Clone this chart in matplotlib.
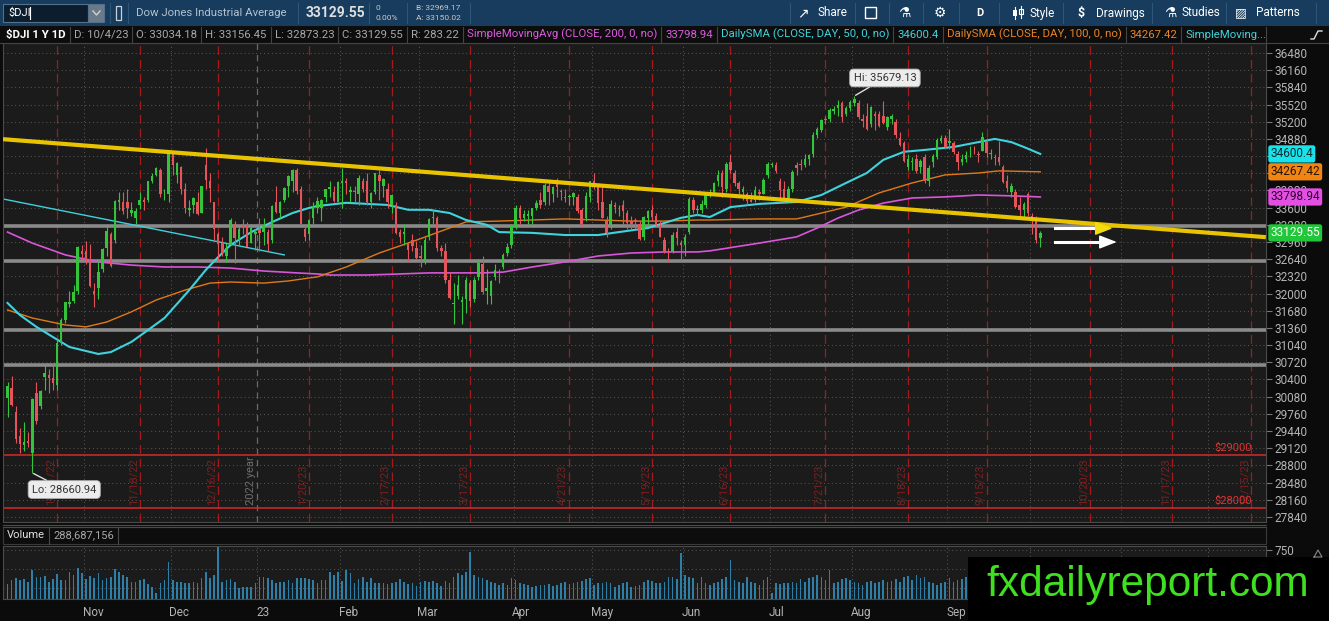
import numpy as np
import pandas as pd
import matplotlib
matplotlib.use('Agg')
import matplotlib.pyplot as plt
from matplotlib.patches import Rectangle

plt.rcParams['font.family'] = ['Roboto', 'DejaVu Sans']

# ---------------- data ----------------
holidays = ['2022-11-24', '2022-12-26', '2023-01-02', '2023-01-16', '2023-02-20',
            '2023-04-07', '2023-05-29', '2023-06-19', '2023-07-04', '2023-09-04',
            '2023-11-23', '2023-12-25']

opens = [30050, 30250, 29800, 29350, 29180, 29260, 29040, 30150, 29900, 30450, 30480, 30420, 30300, 31100, 31500, 31800, 31860, 32040, 32800,
         32800, 32650, 32050, 32100, 32450, 32850, 33100, 33000, 33700, 33700, 33700, 33500, 33400, 33650, 33740, 33750, 34100, 34200, 34300, 33850, 33850,
         34600, 34200, 34350, 33950, 33550, 33650, 33700, 33500, 34400, 34100, 33700, 33100, 32950, 32700, 32900, 33300, 33000, 33250, 33250, 32950, 33100,
         33200, 33150, 33150, 33000, 33700, 33500, 33750, 34000, 34100, 34300, 33950, 33200, 33100, 33400, 33600, 33600, 33800, 33950, 33900, 33700,
         34050, 34100, 33900, 33900, 33850, 34100, 34100, 33700, 33900, 34200, 34000, 33950, 33650, 33650, 33150, 33100, 32950, 33000, 32850,
         32700, 32600, 33050, 33400, 33400, 32850, 32800, 32250, 31800, 31950, 31850, 31900, 32200, 31900, 32300, 32550, 32050, 31950, 32300, 32400, 32500, 32750, 32900,
         33250, 33600, 33400, 33450, 33450, 33600, 33750, 33700, 34000, 33850, 34050, 33900, 33800, 33800, 33800, 33800, 33550, 33400, 33800,
         34100, 34000, 33700, 33350, 33250, 33650, 33550, 33650, 33500, 33350, 33350, 33300, 33050, 33400, 33550, 33450, 33250, 33000, 32800, 32800, 33150, 32950,
         32900, 33150, 33750, 33550, 33550, 33650, 33850, 33900, 34100, 34250, 33950, 34450, 34250, 34050, 33900, 33850, 33750, 33750, 33900, 33850, 34200,
         34400, 34400, 34100, 33950, 33750, 33950, 34400, 34400, 34400, 34500, 34600, 34950, 35050, 35250, 35250, 35400, 35450, 35550, 35350, 35450,
         35550, 35550, 35250, 35300, 35150, 35350, 35350, 35300, 35100, 35250, 35200, 34900, 34800, 34350, 34450, 34500, 34350, 34550, 34100, 34450, 34550, 34850, 34900,
         34800, 34800, 34600, 34450, 34500, 34650, 34650, 34600, 34650, 34850, 34600, 34550, 34550, 34350, 34100, 33900, 33900, 33650, 33550, 33850,
         33450, 33400, 33034.18]
highs = [30350, 30470, 29900, 29500, 29600, 29430, 30060, 30350, 30200, 30690, 30600, 30700, 31150, 31550, 31850, 32050, 32160, 32880, 32900,
         32980, 32920, 32200, 32600, 32850, 33300, 33150, 33750, 33890, 33900, 33950, 33700, 33600, 33900, 33800, 34100, 34250, 34360, 34330, 33950, 34600,
         34620, 34450, 34380, 34050, 33750, 33800, 33900, 34010, 34710, 34250, 33700, 33150, 33050, 32950, 33400, 33350, 33250, 33380, 33330, 33300, 33200,
         33400, 33400, 33200, 33650, 34000, 33720, 33980, 34200, 34320, 34340, 34000, 33300, 33380, 33700, 33800, 33760, 33950, 34100, 34000, 34100,
         34340, 34150, 34000, 34000, 34200, 34150, 34250, 33900, 34250, 34300, 34150, 34050, 33850, 33700, 33200, 33300, 32950, 33100, 32980,
         32900, 33050, 33400, 33570, 33450, 32900, 32950, 32400, 32200, 32350, 31950, 32300, 32250, 32300, 32600, 32700, 32450, 32250, 32550, 32450, 32750, 32950, 33300,
         33650, 33650, 33550, 33550, 33600, 33750, 33900, 34050, 34100, 34000, 34150, 33950, 33950, 33850, 33900, 33850, 33600, 33900, 34100,
         34250, 34050, 34000, 33450, 33750, 33700, 33650, 33750, 33550, 33450, 33400, 33350, 33450, 33550, 33650, 33500, 33350, 33050, 32850, 33150, 33250, 33000,
         33100, 33800, 33800, 33650, 33750, 33900, 33950, 34070, 34300, 34300, 34450, 34590, 34300, 34100, 34000, 33900, 33900, 34000, 33950, 34150, 34450,
         34450, 34450, 34150, 34100, 34000, 34300, 34450, 34500, 34600, 34600, 35000, 35100, 35250, 35300, 35450, 35500, 35600, 35580, 35500, 35600,
         35679.13, 35600, 35350, 35550, 35500, 35400, 35400, 35580, 35300, 35350, 35250, 35000, 34850, 34600, 34550, 34600, 34500, 34600, 34400, 34600, 34900, 34950, 34950,
         35070, 34850, 34650, 34600, 34650, 34750, 34750, 34650, 35000, 34900, 34700, 34600, 34850, 34400, 34200, 34050, 33950, 33800, 33700, 33900,
         33500, 33450, 33156.45]
lows = [29710, 29900, 29210, 29040, 29070, 29140, 28660.94, 29580, 29850, 30200, 30150, 30200, 30200, 31050, 31450, 31750, 31820, 32000, 32650,
        32550, 32130, 31750, 31900, 32400, 32700, 32500, 32950, 33550, 33480, 33400, 33450, 33300, 33580, 33550, 33700, 34050, 34180, 33800, 33750, 33700,
        34200, 34050, 33850, 33500, 33450, 33500, 33470, 33500, 33950, 33700, 33000, 32600, 32700, 32580, 32900, 32570, 32900, 33100, 32880, 32950, 32820,
        32800, 32900, 32800, 32950, 33500, 33400, 33700, 33800, 33900, 33850, 33280, 32980, 33000, 33300, 33500, 33350, 33700, 33800, 33700, 33700,
        33600, 33850, 33700, 33700, 33650, 33900, 33650, 33600, 33850, 33750, 33800, 33600, 33500, 33100, 32950, 32900, 32600, 32800, 32650,
        32500, 32550, 33000, 33300, 32800, 32700, 32200, 31900, 31430, 31900, 31430, 31640, 31750, 31850, 32250, 32000, 31800, 31800, 32250, 32200, 32450, 32700, 32850,
        33200, 33300, 33350, 33300, 33300, 33550, 33600, 33650, 33650, 33700, 33800, 33750, 33700, 33650, 33650, 33500, 33250, 33350, 33700,
        33950, 33550, 33400, 33050, 33200, 33500, 33450, 33300, 33200, 33200, 33200, 33000, 33000, 33250, 33350, 33250, 33050, 32750, 32600, 32750, 32900, 32600,
        32700, 33100, 33500, 33450, 33500, 33600, 33800, 33850, 34000, 33800, 33900, 34250, 34000, 33850, 33750, 33650, 33700, 33700, 33750, 33850, 34150,
        34350, 34250, 33700, 33700, 33700, 33900, 34200, 34300, 34350, 34400, 34550, 34900, 35000, 35150, 35200, 35350, 35300, 35200, 35300, 35400,
        35500, 35250, 35100, 35050, 35100, 35050, 35100, 35150, 35050, 35150, 34900, 34750, 34450, 34300, 34300, 34250, 34250, 34050, 34000, 34350, 34500, 34800, 34700,
        34700, 34600, 34300, 34400, 34450, 34550, 34600, 34450, 34650, 34550, 34500, 34400, 34400, 34050, 33900, 33800, 33600, 33450, 33400, 33450,
        33100, 32950, 32873.23]
closes = [30274, 29927, 29297, 29203, 29240, 29211, 30039, 29635, 30186, 30524, 30424, 30334, 31083, 31500, 31837, 31840, 32034, 32862, 32733,
          32653, 32148, 32001, 32403, 32827, 33160, 32514, 33716, 33748, 33537, 33593, 33554, 33546, 33746, 33700, 34098, 34195, 34347, 33850, 33853, 34590,
          34395, 34430, 33947, 33597, 33598, 33781, 33476, 34005, 34108, 33966, 33202, 32920, 32757, 32850, 33376, 33027, 33204, 33241, 32875, 33221, 33147,
          33136, 33270, 32930, 33631, 33518, 33704, 33973, 34190, 34303, 33910, 33297, 33045, 33375, 33630, 33733, 33744, 33949, 33978, 33717, 34086,
          34093, 34054, 33926, 33891, 34156, 33949, 33699, 33869, 34246, 34089, 34128, 33697, 33827, 33130, 33045, 33154, 32817, 32889, 32657,
          32662, 33004, 33391, 33432, 32856, 32798, 32255, 31910, 31820, 32155, 31875, 32247, 31862, 32245, 32561, 32031, 32106, 32238, 32433, 32394, 32718, 32860, 33274,
          33601, 33403, 33483, 33486, 33587, 33685, 33647, 34030, 33887, 33988, 33977, 33897, 33787, 33809, 33876, 33531, 33302, 33826, 34098,
          34052, 33684, 33414, 33128, 33675, 33618, 33562, 33531, 33309, 33300, 33349, 33013, 33420, 33535, 33427, 33286, 33056, 32800, 32765, 33093, 33043, 32908,
          33061, 33763, 33563, 33573, 33665, 33833, 33876, 34066, 34212, 33979, 34408, 34299, 34053, 33952, 33947, 33727, 33714, 33927, 33852, 34122, 34408,
          34418, 34288, 33922, 33734, 33944, 34262, 34347, 34395, 34509, 34586, 34952, 35061, 35225, 35228, 35411, 35438, 35520, 35282, 35459, 35560,
          35630, 35282, 35215, 35066, 35473, 35314, 35123, 35176, 35281, 35308, 34946, 34766, 34474, 34501, 34464, 34288, 34473, 34099, 34347, 34559, 34853, 34891, 34722,
          34838, 34642, 34443, 34501, 34577, 34664, 34646, 34576, 34908, 34618, 34625, 34518, 34441, 34070, 33964, 34007, 33619, 33551, 33667, 33508,
          33433, 33002, 33129.55]
volume_m = [307, 355, 377, 355, 364, 334, 487, 399, 391, 408,
            334, 364, 434, 355, 355, 456, 421, 509, 443, 364,
            412, 377, 443, 355, 377, 399, 500, 456, 421, 399,
            334, 334, 355, 364, 303, 268, 180, 312, 355, 597,
            355, 334, 334, 312, 312, 334, 312, 377, 465, 377,
            421, 794, 334, 355, 369, 334, 246, 268, 268, 268,
            312, 399, 391, 377, 355, 312, 334, 334, 355, 312,
            377, 377, 386, 364, 355, 312, 355, 355, 465, 421,
            465, 340, 487, 443, 312, 364, 399, 334, 377, 312,
            312, 320, 303, 312, 334, 369, 334, 303, 320, 281,
            334, 342, 334, 347, 312, 277, 342, 312, 399, 443,
            421, 465, 728, 421, 399, 377, 355, 334, 312, 290,
            312, 290, 377, 355, 312, 303, 290, 268, 281, 290,
            290, 299, 281, 290, 320, 334, 303, 312, 334, 347,
            364, 377, 290, 312, 320, 334, 312, 268, 290, 320,
            334, 268, 277, 290, 334, 355, 347, 312, 320, 334,
            399, 399, 364, 706, 421, 399, 377, 312, 399, 312,
            290, 320, 334, 364, 399, 619, 355, 334, 312, 399,
            334, 312, 290, 355, 399, 190, 312, 303, 320, 312,
            334, 312, 364, 334, 377, 399, 421, 399, 355, 487,
            312, 334, 364, 377, 355, 334, 312, 290, 334, 347,
            320, 334, 355, 334, 347, 364, 334, 399, 408, 355,
            421, 377, 399, 334, 312, 290, 312, 334, 377, 334,
            355, 364, 399, 334, 320, 340, 330, 560, 300, 290,
            310, 350, 370, 310, 330, 320, 300, 340, 300, 330,
            289]

# moving averages (bar index, value)
sma50_x = [0, 3, 7, 11, 15, 22, 25, 30, 34, 38, 44, 48, 51, 54, 59, 64, 69, 73, 75, 82, 92, 97, 102, 107, 111,
           116, 119, 127, 135, 143, 148, 155, 163, 167, 170, 175, 182, 191, 197, 203, 208, 212, 217, 222, 229, 235, 239, 243, 246, 250]
sma50_v = [31825, 31600, 31380, 31190, 31005, 30875, 30910, 31100, 31320, 31545, 32065, 32440, 32680, 32905, 33145,
           33330, 33500, 33595, 33630, 33690, 33650, 33560, 33560, 33500, 33370, 33280, 33145, 33130, 33090, 33090,
           33145, 33220, 33410, 33465, 33425, 33610, 33670, 33705, 33835, 34060, 34245, 34490, 34640, 34675, 34730,
           34820, 34880, 34820, 34730, 34600.4]
sma100_x = [0, 6, 14, 19, 24, 30, 36, 43, 49, 54, 62, 68, 73, 75, 82, 90, 99, 107, 111, 119, 127, 135, 143, 151, 159,
            167, 170, 182, 191, 193, 203, 211, 219, 227, 235, 240, 250]
sma100_v = [31695, 31545, 31415, 31380, 31470, 31660, 31880, 32065, 32195, 32215, 32195, 32235, 32290, 32310, 32495,
            32755, 32995, 33220, 33335, 33350, 33370, 33390, 33370, 33350, 33350, 33370, 33370, 33390, 33390, 33425,
            33610, 33875, 34060, 34210, 34245, 34285, 34267.42]
sma200_x = [0, 6, 14, 22, 30, 38, 46, 54, 62, 70, 75, 78, 87, 95, 102, 115, 120, 127, 135, 143, 151, 159, 167, 170,
            182, 191, 196, 201, 206, 212, 219, 227, 235, 243, 250]
sma200_v = [33145, 32940, 32720, 32590, 32530, 32495, 32495, 32475, 32420, 32385, 32365, 32345, 32345, 32365, 32385,
            32385, 32400, 32495, 32590, 32700, 32755, 32775, 32775, 32795, 32940, 33055, 33220, 33405, 33555, 33685,
            33780, 33800, 33835, 33820, 33798.94]
sma_extra_x = [-1, 67]
sma_extra_v = [33760, 32720]

trend_x = [-1.1, 304.6]
trend_v = [34875, 33050]
support_levels = [33260, 32610, 31320, 30670]
price_alerts = [29000, 28000]
alert_labels = ['$29000', '$28000']
expiries = ['2022-10-21', '2022-11-18', '2022-12-16', '2023-01-20', '2023-02-17', '2023-03-17', '2023-04-21',
            '2023-05-19', '2023-06-16', '2023-07-21', '2023-08-18', '2023-09-15', '2023-10-20', '2023-11-17',
            '2023-12-15']
arrow_x0 = [253.5, 253.5]
arrow_x1 = [267.5, 268.5]
arrow_v = [33215, 32960]
arrow_heads = ['#f2dc10', '#ffffff']
last_labels = [('34600.4', 34600.4, '#19e3ea', '#0a2a30'),
               ('34267.42', 34267.42, '#f08512', '#2a1200'),
               ('33798.94', 33798.94, '#e24fe2', '#2a002a'),
               ('33129.55', 33129.55, '#22c63a', '#ffffff')]
hidden_ticks = [34560, 34240]

# ---------------- layout ----------------
W, H = 1329, 621
fig = plt.figure(figsize=(W / 100, H / 100), dpi=100)
fig.patch.set_facecolor('#0b0b0b')


def R(x0, y0, x1, y1):
    return [x0 / W, 1 - y1 / H, (x1 - x0) / W, (y1 - y0) / H]


cal = pd.bdate_range('2022-10-05', '2023-12-29')
cal = cal[~cal.isin(pd.to_datetime(holidays))]
pos = {d.strftime('%Y-%m-%d'): i for i, d in enumerate(cal)}
n = len(closes)
idx = np.arange(n)
o = np.array(opens, float); h = np.array(highs, float)
l = np.array(lows, float); c = np.array(closes, float)

month_starts = [i for i in range(1, len(cal)) if cal[i].month != cal[i - 1].month]
month_names = [('23' if cal[i].month == 1 else cal[i].strftime('%b')) for i in month_starts]

XL = (-1.09, 304.64)
grid_kw = dict(color='#5a5a5a', lw=0.7, ls=(0, (1, 3)))

ax = fig.add_axes(R(3, 43, 1266, 522))
ax.set_facecolor('#1b1b1b')
ax.set_xlim(*XL)
ax.set_ylim(27746, 36666)
yt = list(range(27840, 36481, 320))
ax.set_yticks(yt)
ax.set_yticklabels(['' if v in hidden_ticks else str(v) for v in yt])
ax.yaxis.tick_right()
ax.tick_params(axis='y', colors='#777777', labelcolor='#b4b4b4', labelsize=8.5, length=4, pad=2)
ax.tick_params(axis='x', length=0, labelbottom=False)
for s in ax.spines.values():
    s.set_color('#4a4a4a'); s.set_linewidth(0.8)
for v in yt:
    ax.axhline(v, zorder=0.5, **grid_kw)
for i in month_starts:
    if cal[i].month != 1:
        ax.axvline(i - 0.5, zorder=0.5, **grid_kw)

# expiration lines
for d in expiries:
    xi = pos[d]
    ax.axvline(xi, color='#a01c1c', lw=0.9, ls=(0, (7, 4)), zorder=1)
    dt = pd.Timestamp(d)
    ax.text(xi - 0.4, 0.036, f'{dt.month}/{dt.day}/{dt.strftime("%y")}', transform=ax.get_xaxis_transform(),
            rotation=90, ha='right', va='bottom', color='#7c1f1f', fontsize=8, zorder=1.5)
ax.axvline(60.5, color='#6a6a6a', lw=0.9, ls=(0, (5, 4)), zorder=1)
ax.text(60.1, 0.036, '2022 year', transform=ax.get_xaxis_transform(), rotation=90, ha='right', va='bottom',
        color='#6e6e6e', fontsize=8, zorder=1.5)

for v in support_levels:
    ax.axhline(v, color='#8a8a8a', lw=2.6, zorder=2)
for v, lab in zip(price_alerts, alert_labels):
    ax.axhline(v, color='#d42a2a', lw=1.1, zorder=2)
    ax.text(0.9885, v + 40, lab, transform=ax.get_yaxis_transform(), ha='right', va='bottom',
            color='#e03232', fontsize=8, zorder=2)

# moving averages
ax.plot(sma_extra_x, sma_extra_v, color='#3fd0dc', lw=1.0, zorder=2.5)
ax.plot(sma200_x, sma200_v, color='#d955d9', lw=1.2, zorder=2.6)
ax.plot(sma100_x, sma100_v, color='#e07a18', lw=1.0, zorder=2.6)
ax.plot(sma50_x, sma50_v, color='#3fd3dd', lw=1.5, zorder=2.7)

# candles
up = c >= o
cols = np.where(up, '#33c43c', '#e5545b')
ax.vlines(idx, l, h, colors=cols, lw=0.8, zorder=3)
body = np.maximum(np.abs(c - o), 12)
ax.bar(idx, body, bottom=np.minimum(o, c), width=0.6, color=cols, linewidth=0, zorder=4)

# trend line and arrows
ax.plot(trend_x, trend_v, color='#e8c400', lw=3.0, zorder=6, solid_capstyle='butt')
for x0, x1, v, hc in zip(arrow_x0, arrow_x1, arrow_v, arrow_heads):
    ax.plot([x0, x1 - 3], [v, v], color='white', lw=2.2, zorder=7)
    ax.annotate('', xy=(x1, v), xytext=(x1 - 3.5, v),
                arrowprops=dict(arrowstyle='-|>,head_length=0.9,head_width=0.35', color=hc, lw=1.0,
                                shrinkA=0, shrinkB=0, mutation_scale=12), zorder=7)

# hi / lo callouts
hi_i = int(np.argmax(h)); lo_i = int(np.argmin(l))
ax.annotate(f'Hi: {h[hi_i]:.2f}', xy=(hi_i, h[hi_i]), xytext=(22, 13), textcoords='offset points',
            ha='center', va='center', fontsize=8, color='#333333', zorder=12,
            bbox=dict(boxstyle='round,pad=0.35', fc='#ececec', ec='#b0b0b0', lw=0.6),
            arrowprops=dict(arrowstyle='-', color='#dddddd', lw=1.0, shrinkA=0, shrinkB=1))
ax.annotate(f'Lo: {l[lo_i]:.2f}', xy=(lo_i, l[lo_i]), xytext=(23, -12), textcoords='offset points',
            ha='center', va='center', fontsize=8, color='#333333', zorder=12,
            bbox=dict(boxstyle='round,pad=0.35', fc='#ececec', ec='#b0b0b0', lw=0.6),
            arrowprops=dict(arrowstyle='-', color='#dddddd', lw=1.0, shrinkA=0, shrinkB=1))

# right-axis value bubbles
for txt, v, bg, fg in last_labels:
    ax.text(1.0035, v, txt, transform=ax.get_yaxis_transform(), ha='left', va='center', fontsize=8.5,
            color=fg, zorder=20, clip_on=False,
            bbox=dict(boxstyle='round,pad=0.18,rounding_size=0.2', fc=bg, ec='none'))

# volume
axv = fig.add_axes(R(3, 546, 1266, 599))
axv.set_facecolor('#1b1b1b')
axv.set_xlim(*XL)
axv.set_ylim(105, 803)
axv.bar(idx, volume_m, width=0.4, color='#2d7fa7', linewidth=0, zorder=2)
axv.set_yticks([250, 500, 750])
axv.set_yticklabels(['', '', '750'])
axv.yaxis.tick_right()
axv.tick_params(axis='y', colors='#777777', labelcolor='#b4b4b4', labelsize=8.5, length=4, pad=2)
for v in [250, 500, 750]:
    axv.axhline(v, zorder=0.5, **grid_kw)
for i in month_starts:
    axv.axvline(i - 0.5, zorder=0.5, **grid_kw)
axv.set_xticks([i - 0.8 for i in month_starts])
axv.set_xticklabels(month_names, ha='left')
axv.tick_params(axis='x', length=0, pad=5, labelcolor='#b4b4b4', labelsize=8.5)
for s in axv.spines.values():
    s.set_color('#4a4a4a'); s.set_linewidth(0.8)

# ---------------- overlay (toolbar, header, watermark) ----------------
ov = fig.add_axes([0, 0, 1, 1], zorder=30)
ov.set_xlim(0, W); ov.set_ylim(H, 0); ov.axis('off'); ov.patch.set_alpha(0)
r = fig.canvas.get_renderer()


def T(x, y, s, **kw):
    kw.setdefault('va', 'center')
    kw.setdefault('ha', 'left')
    return ov.text(x, y, s, **kw)


# toolbar
ov.add_patch(Rectangle((0, 0), W, 26, fc='#173c5d', ec='none'))
ov.add_patch(Rectangle((3, 4), 85, 18, fc='#0c1d2e', ec='#55708a', lw=0.8))
ov.add_patch(Rectangle((88, 4), 16, 18, fc='#6b7a88', ec='#55708a', lw=0.8))
ov.plot([93, 96.5, 100], [11, 15, 11], color='#d0d0d0', lw=1.0)
T(8, 13, '$DJI', color='white', fontsize=8)
ov.plot([30, 30], [7, 19], color='white', lw=0.8)
ov.add_patch(Rectangle((116, 6), 5, 14, fc='none', ec='#c8d2dc', lw=0.9))
T(136, 13, 'Dow Jones Industrial Average', color='#b4c2d0', fontsize=8.2)
for xs in [110, 128, 298, 369, 407, 470]:
    ov.plot([xs, xs], [3, 23], color='#2d5578', lw=0.8)
T(306, 13, '33129.55', color='#dedede', fontsize=10, fontweight='bold')
T(375, 8, '0', color='#c8c8c8', fontsize=6)
T(375, 18, '0.00%', color='#c8c8c8', fontsize=6)
T(416, 8, 'B: 32969.17', color='#c8c8c8', fontsize=6)
T(416, 18, 'A: 33150.02', color='#c8c8c8', fontsize=6)
for xs in [790, 855, 889, 923, 959, 999, 1063, 1152, 1226, 1316]:
    ov.plot([xs, xs], [3, 23], color='#2d5578', lw=0.8)
T(797, 13, '↗', color='white', fontsize=10, family='DejaVu Sans')
T(817, 13, 'Share', color='white', fontsize=8.5)
ov.add_patch(Rectangle((865, 7), 11, 11, fc='none', ec='white', lw=1.0))
T(898, 13, '⚗', color='white', fontsize=10, family='DejaVu Sans')
T(934, 13, '⚙', color='white', fontsize=10, family='DejaVu Sans')
T(976, 13, 'D', color='white', fontsize=8, fontweight='bold')
# small candle icon for "Style"
ov.plot([1015, 1015], [7, 19], color='white', lw=0.8)
ov.add_patch(Rectangle((1013, 10), 4, 6, fc='white', ec='none'))
ov.plot([1021, 1021], [6, 18], color='white', lw=0.8)
ov.add_patch(Rectangle((1019, 9), 4, 5, fc='none', ec='white', lw=0.8))
T(1029, 13, 'Style', color='white', fontsize=8.5)
T(1078, 13, '$', color='white', fontsize=9, fontweight='bold')
T(1096, 13, 'Drawings', color='white', fontsize=8.5)
T(1164, 13, '⚗', color='white', fontsize=10, family='DejaVu Sans')
T(1182, 13, 'Studies', color='white', fontsize=8.5)
T(1235, 13, '▨', color='white', fontsize=9, family='DejaVu Sans')
T(1256, 13, 'Patterns', color='white', fontsize=8.5)

# header row
ov.add_patch(Rectangle((0, 26), W, 16.5, fc='#0d0d0d', ec='none'))
ov.plot([0, W], [42.5, 42.5], color='#444444', lw=0.8)
gray = '#a8a8a8'
items = [('$DJI 1 Y 1D', '#ffffff', 'bold'), ('D: 10/4/23', gray, 'normal'), ('O: 33034.18', gray, 'normal'),
         ('H: 33156.45', gray, 'normal'), ('L: 32873.23', gray, 'normal'), ('C: 33129.55', gray, 'normal'),
         ('R: 283.22', gray, 'normal'), ('SimpleMovingAvg (CLOSE, 200, 0, no)', '#dd5ae0', 'normal'),
         ('33798.94', '#dd5ae0', 'normal'), ('DailySMA (CLOSE, DAY, 50, 0, no)', '#3fd3dd', 'normal'),
         ('34600.4', '#3fd3dd', 'normal'), ('DailySMA (CLOSE, DAY, 100, 0, no)', '#e8842a', 'normal'),
         ('34267.42', '#e8842a', 'normal')]
x = 2
for s, col, fw in items:
    t = T(x + 4, 34.5, s, color=col, fontsize=8.2, fontweight=fw)
    wpx = t.get_window_extent(r).width
    x = x + 4 + wpx + 4
    ov.plot([x, x], [27, 42], color='#444444', lw=0.8)
T(x + 4, 34.5, 'SimpleMoving...', color='#3fd3dd', fontsize=8.2)
ov.plot([1266, 1266], [27, 42], color='#444444', lw=0.8)
ov.plot([1311, 1314, 1318, 1322], [39, 39, 31, 31], color='#dddddd', lw=1.0)

# volume header
ov.add_patch(Rectangle((0, 523), 1266, 22, fc='#0d0d0d', ec='none'))
ov.plot([3, 1266], [524.5, 524.5], color='#4a4a4a', lw=0.8)
ov.plot([3, 1266], [526.5, 526.5], color='#4a4a4a', lw=0.8)
ov.add_patch(Rectangle((3, 527), 1263, 16.5, fc='none', ec='#3a3a3a', lw=0.8))
t = T(7, 535, 'Volume', color='#e0e0e0', fontsize=8)
xv = 7 + t.get_window_extent(r).width + 4
ov.plot([xv, xv], [527, 543.5], color='#4a4a4a', lw=0.8)
t2 = T(xv + 4, 535, '288,687,156', color=gray, fontsize=8)
xv2 = xv + 4 + t2.get_window_extent(r).width + 4
ov.plot([xv2, xv2], [527, 543.5], color='#4a4a4a', lw=0.8)
ov.plot([1314, 1318, 1322, 1314], [557, 550, 557, 557], color='#888888', lw=0.8)

# watermark
ov.add_patch(Rectangle((968, 557), W - 968, H - 557, fc='#000000', ec='none'))
T(1148, 585, 'fxdailyreport.com', color='#3fe01f', fontsize=30.5, family='Liberation Sans', ha='center')

fig.savefig('out.png', dpi=100, facecolor=fig.get_facecolor())
